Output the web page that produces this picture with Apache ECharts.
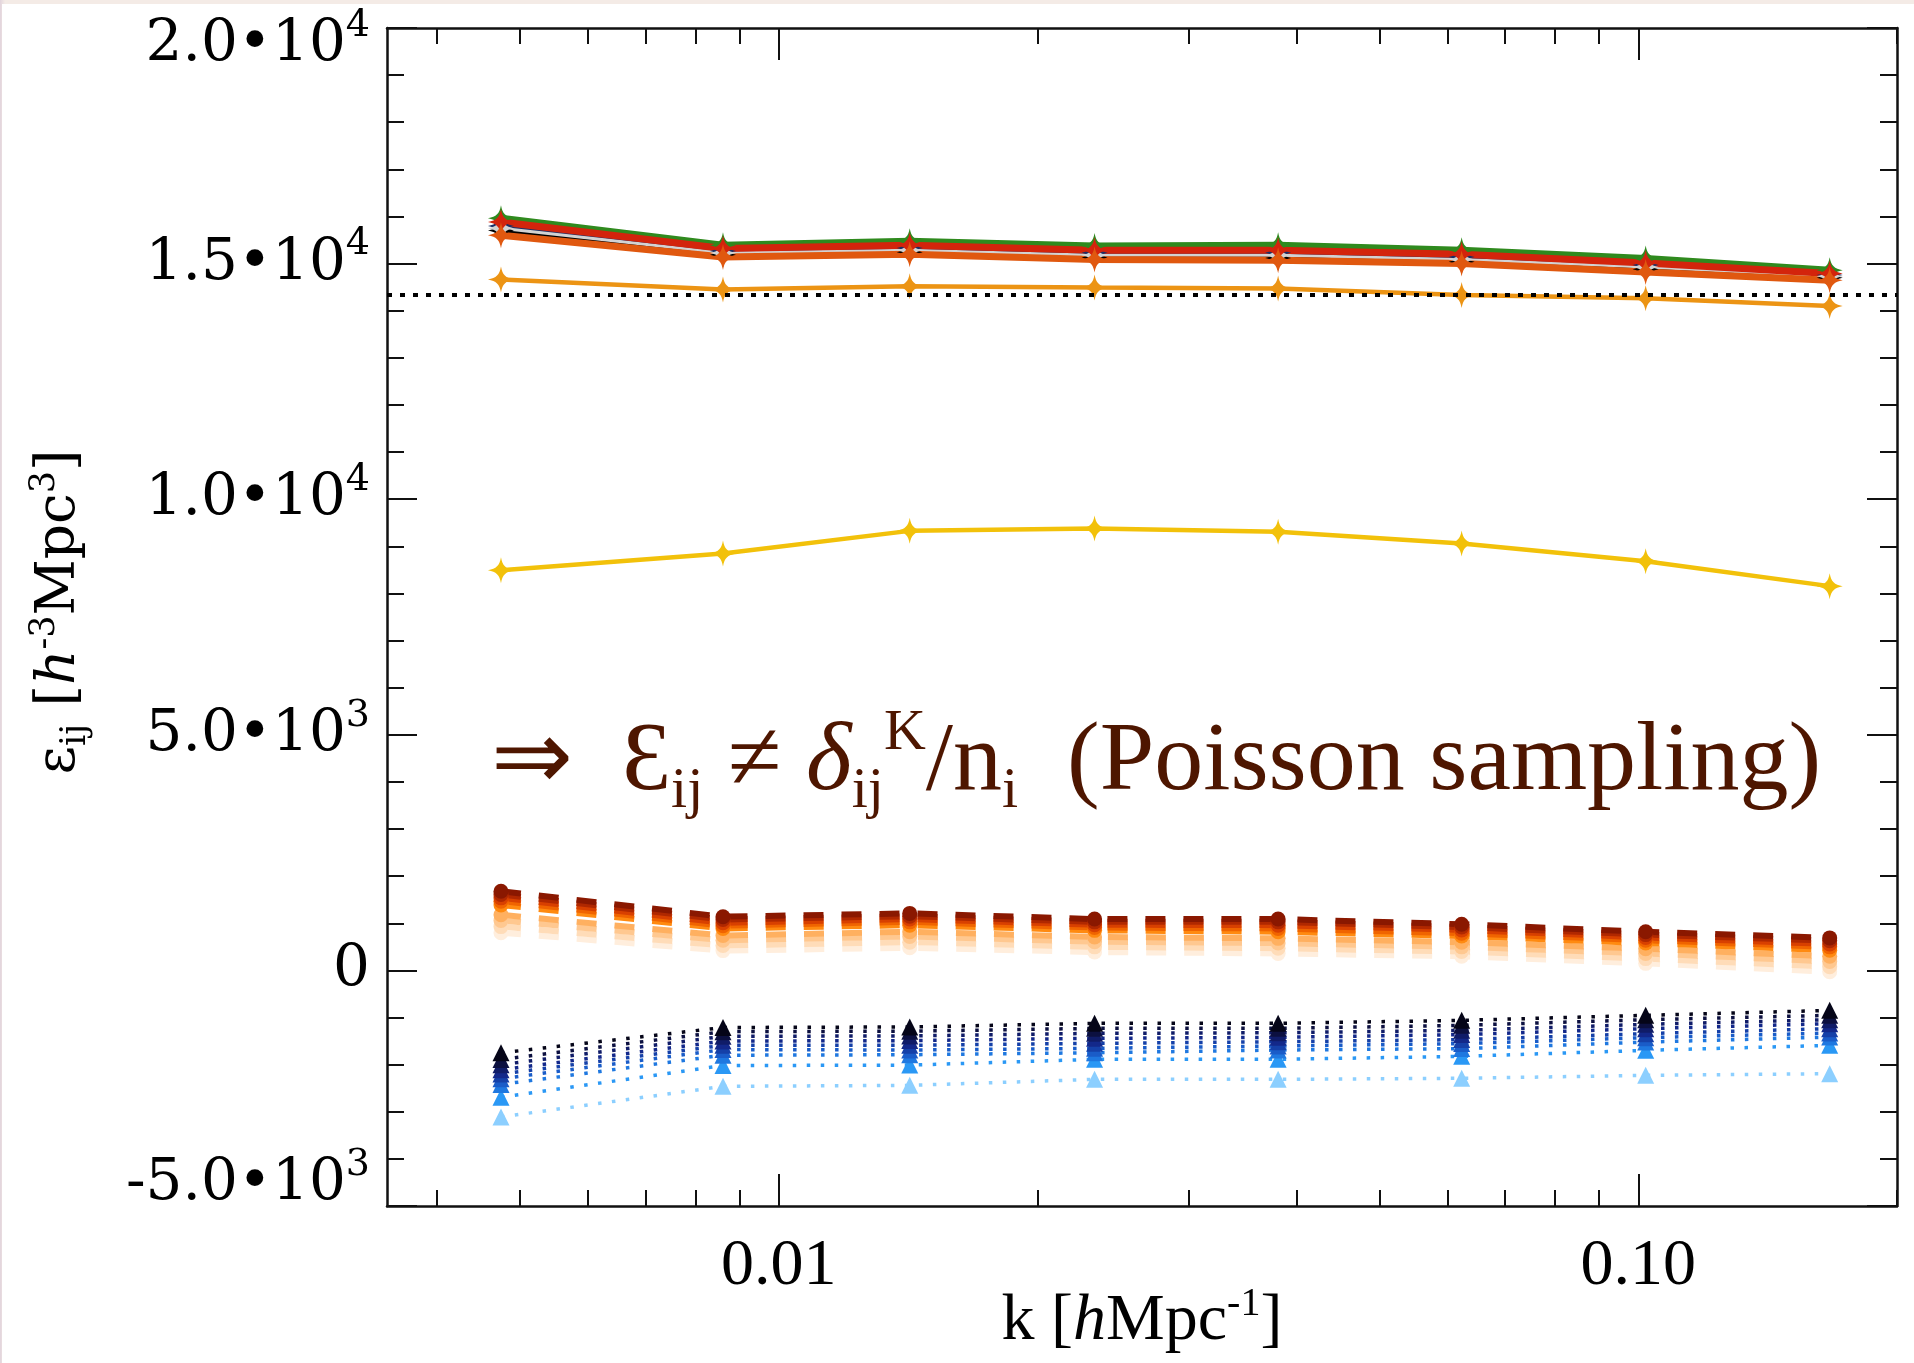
<!DOCTYPE html>
<html>
<head>
<meta charset="utf-8">
<script src="https://cdn.jsdelivr.net/npm/echarts@6/dist/echarts.min.js"></script>
<style>
html, body { margin: 0; padding: 0; width: 1914px; height: 1363px; overflow: hidden;
  background: linear-gradient(90deg, #e2d4dc 0, #f4ebe6 5px, #f4ebe6 100%); }
#chart { position: absolute; left: 2px; top: 4px; width: 1912px; height: 1359px; background: #fff; }
</style>
</head>
<body>
<div id="chart"></div>
<script>
// Wavenumber bins [h/Mpc]
const kValues = [0.00475, 0.00861, 0.0142, 0.0233, 0.0381, 0.0623, 0.102, 0.167];

// x axis range and ticks
const kMin = 0.0035;
const kMax = 0.2;
const xMajorTicks = [0.01, 0.1];
const xMajorLabels = ['0.01', '0.10'];
const xMinorTicks = [0.004, 0.005, 0.006, 0.007, 0.008, 0.009,
                     0.02, 0.03, 0.04, 0.05, 0.06, 0.07, 0.08, 0.09, 0.2];

// y axis ticks
const yTickValues = [-5000, 0, 5000, 10000, 15000, 20000];
const yTickMantissa = ['-5.0\u202210', '0', '5.0\u202210', '1.0\u202210', '1.5\u202210', '2.0\u202210'];
const yTickExponent = ['3', '', '3', '4', '4', '4'];

// Poisson level 1/n
const shotNoiseLevel = 14340;

// Diagonal terms (solid, star markers)
const diagGreen     = [15962, 15389, 15474, 15375, 15389, 15283, 15107, 14859];
const diagRed       = [15884, 15319, 15389, 15283, 15283, 15198, 15014, 14789];
const diagNavy      = [15800, 15270, 15330, 15230, 15230, 15140, 14970, 14760];
const diagGray      = [15750, 15226, 15283, 15177, 15177, 15086, 14929, 14732];
const diagBlack     = [15700, 15190, 15240, 15130, 15120, 15040, 14880, 14700];
const diagOrangeRed = [15602, 15141, 15198, 15086, 15071, 15001, 14823, 14647];
const diagOrange    = [14662, 14449, 14519, 14492, 14471, 14335, 14265, 14100];
const diagYellow    = [8494, 8848, 9328, 9379, 9307, 9061, 8685, 8155];

// Off-diagonal terms, positive branch (dashed, dark to light)
const offPos1 = [1680, 1140, 1210, 1090, 1090, 980, 820, 690];
const offPos2 = [1610, 1080, 1150, 1030, 1030, 920, 760, 630];
const offPos3 = [1540, 1010, 1090, 970, 960, 860, 700, 560];
const offPos4 = [1470, 950, 1030, 910, 890, 790, 640, 500];
const offPos5 = [1390, 890, 960, 850, 820, 730, 580, 430];
const offPos6 = [1180, 740, 820, 710, 680, 600, 460, 300];
const offPos7 = [1060, 640, 720, 610, 580, 500, 360, 190];
const offPos8 = [930, 530, 600, 500, 470, 400, 250, 80];
const offPos9 = [800, 420, 480, 390, 360, 300, 150, -30];

// Off-diagonal terms, negative branch (dotted, dark to light)
const offNeg1 = [-1750, -1212, -1200, -1124, -1124, -1060, -954, -848];
const offNeg2 = [-1890, -1300, -1290, -1230, -1230, -1166, -1046, -954];
const offNeg3 = [-2000, -1400, -1390, -1336, -1323, -1272, -1145, -1046];
const offNeg4 = [-2110, -1500, -1490, -1442, -1421, -1363, -1236, -1131];
const offNeg5 = [-2200, -1590, -1590, -1548, -1514, -1469, -1342, -1236];
const offNeg6 = [-2300, -1680, -1690, -1654, -1605, -1554, -1427, -1330];
const offNeg7 = [-2420, -1800, -1790, -1748, -1690, -1660, -1521, -1415];
const offNeg8 = [-2690, -2020, -2010, -1888, -1888, -1824, -1697, -1591];
const offNeg9 = [-3110, -2460, -2440, -2312, -2312, -2290, -2227, -2192];

const posLines = [offPos1, offPos2, offPos3, offPos4, offPos5, offPos6, offPos7, offPos8, offPos9];
const posColors = ['#8a1800', '#b02800', '#d84000', '#f06400', '#ff8a10', '#ffb060', '#ffc890', '#ffdcb8', '#ffeedd'];
const negLines = [offNeg1, offNeg2, offNeg3, offNeg4, offNeg5, offNeg6, offNeg7, offNeg8, offNeg9];
const negColors = ['#050518', '#0c1040', '#101c68', '#13288a', '#1540a8', '#1a5cc8', '#1f78e0', '#2a98f5', '#8ccfff'];

const starSymbol = 'path://M10,0 C11.2,6.5 13.5,8.8 20,10 C13.5,11.2 11.2,13.5 10,20 C8.8,13.5 6.5,11.2 0,10 C6.5,8.8 8.8,6.5 10,0 Z';

function pairs(vals) { return kValues.map((k, i) => [k, vals[i]]); }

const series = [];

// negative branch: lightest first so the dark lines sit on top
for (let i = negLines.length - 1; i >= 0; i--) {
  series.push({
    type: 'line', data: pairs(negLines[i]),
    symbol: 'triangle', symbolSize: [17, 17],
    itemStyle: { color: negColors[i] },
    lineStyle: { color: negColors[i], width: 3.5, type: [3.5, 10.5] }
  });
}
// positive branch
for (let i = posLines.length - 1; i >= 0; i--) {
  series.push({
    type: 'line', data: pairs(posLines[i]),
    symbol: 'circle', symbolSize: 15,
    itemStyle: { color: posColors[i] },
    lineStyle: { color: posColors[i], width: 6, type: [20, 18] }
  });
}

function solid(vals, color, width) {
  return {
    type: 'line', data: pairs(vals),
    symbol: starSymbol, symbolSize: 26,
    itemStyle: { color: color },
    lineStyle: { color: color, width: width }
  };
}
series.push(solid(diagYellow, '#f2c10a', 4.5));
series.push(solid(diagOrange, '#ec9414', 4.5));
series.push(solid(diagGreen, '#2f8a1e', 7));
series.push(solid(diagNavy, '#1b2f66', 5));
series.push(solid(diagBlack, '#000000', 4));
series.push(solid(diagGray, '#d2d2d2', 3));
series.push(solid(diagRed, '#d3240c', 7));
series.push(solid(diagOrangeRed, '#e0580f', 7));

// 1/n reference level
series.push({
  type: 'line', data: [],
  markLine: {
    silent: true, symbol: ['none', 'none'], label: { show: false },
    lineStyle: { color: '#000', width: 4, type: [5, 8] },
    data: [{ yAxis: shotNoiseLevel }]
  }
});

const axisColor = '#111';
function xAxisDef(position, ticks, len, withLabels, showLine) {
  return {
    type: 'log', logBase: 10, min: kMin, max: kMax, position: position,
    axisLine: { show: showLine, onZero: false, lineStyle: { color: axisColor, width: 2.5 } },
    axisTick: { show: true, inside: true, length: len, customValues: ticks,
                lineStyle: { color: axisColor, width: 2 } },
    minorTick: { show: false },
    splitLine: { show: false },
    axisLabel: withLabels ? {
      show: true, customValues: xMajorTicks, margin: 28,
      fontFamily: 'Liberation Serif', fontSize: 66, color: '#000',
      formatter: v => xMajorLabels[xMajorTicks.findIndex(t => Math.abs(t - v) < 1e-9)]
    } : { show: false }
  };
}

const xAxes = [
  Object.assign(xAxisDef('bottom', xMajorTicks, 32, true, true), {
    name: '{t|k [}{it|h}{t|Mpc}{sp|-1}{t|]}',
    nameLocation: 'middle', nameGap: 78, nameMoveOverlap: false,
    nameTextStyle: {
      rich: {
        t: { fontFamily: 'Liberation Serif', fontSize: 66, lineHeight: 76, color: '#000' },
        it: { fontFamily: 'Liberation Serif', fontSize: 66, fontStyle: 'italic', lineHeight: 76, color: '#000' },
        sp: { fontFamily: 'Liberation Serif', fontSize: 40, verticalAlign: 'top', color: '#000' }
      }
    }
  }),
  xAxisDef('bottom', xMinorTicks, 16, false, false),
  xAxisDef('top', xMajorTicks, 32, false, true),
  xAxisDef('top', xMinorTicks, 16, false, false)
];

const yRich = {
  m: { fontFamily: 'DejaVu Serif', fontSize: 58, lineHeight: 76, color: '#000' },
  s: { fontFamily: 'DejaVu Serif', fontSize: 38, verticalAlign: 'top', color: '#000' },
  gapTop: { fontSize: 10, lineHeight: 34 },
  gapBottom: { fontSize: 10, lineHeight: 44 }
};

function yAxisDef(position, labels) {
  return {
    type: 'value', position: position, min: -5000, max: 20000, interval: 5000,
    axisLine: { show: true, onZero: false, lineStyle: { color: axisColor, width: 2.5 } },
    axisTick: { show: true, inside: true, length: 30, lineStyle: { color: axisColor, width: 2 } },
    minorTick: { show: true, splitNumber: 5, length: 17, lineStyle: { color: axisColor, width: 2 } },
    splitLine: { show: false },
    axisLabel: labels ? {
      show: true, margin: 17, rich: yRich,
      formatter: v => {
        const i = yTickValues.indexOf(v);
        if (i < 0) return '';
        const body = '{m|' + yTickMantissa[i] + '}' + (yTickExponent[i] ? '{s|' + yTickExponent[i] + '}' : '');
        // end labels sit inside the frame
        if (i === yTickValues.length - 1) return '{gapTop| }\n' + body;
        if (i === 0) return body + '\n{gapBottom| }';
        return body;
      }
    } : { show: false }
  };
}

const textColor = '#4e1600';
const chart = echarts.init(document.getElementById('chart'), null, { renderer: 'canvas' });
chart.setOption({
  animation: false,
  backgroundColor: '#ffffff',
  grid: { left: 385, top: 24, width: 1510, height: 1178, containLabel: false, outerBoundsMode: 'none' },
  xAxis: xAxes,
  yAxis: [yAxisDef('left', true), yAxisDef('right', false)],
  series: series,
  graphic: [
    {
      type: 'text', x: 58, y: 608, rotation: Math.PI / 2,
      style: {
        text: '{t|\u03b5}{sb|ij}{t| [}{it|h}{sp|-3}{t|Mpc}{sp|3}{t|]}',
        align: 'center', verticalAlign: 'middle',
        rich: {
          t: { fontFamily: 'DejaVu Serif', fontSize: 55, lineHeight: 66, fill: '#000' },
          it: { fontFamily: 'DejaVu Serif', fontSize: 55, fontStyle: 'italic', lineHeight: 66, fill: '#000' },
          sb: { fontFamily: 'DejaVu Serif', fontSize: 35, verticalAlign: 'bottom', fill: '#000' },
          sp: { fontFamily: 'DejaVu Serif', fontSize: 35, verticalAlign: 'top', fill: '#000' }
        }
      }
    },
    {
      type: 'text', x: 489, y: 759,
      style: {
        text: '{t|\u21d2  \u0190}{sb|ij}{t| \u2260 }{d|\u03b4}{sb|ij}{sp|K}{t|/n}{sb|i}{t|  (Poisson sampling)}',
        align: 'left', verticalAlign: 'middle',
        rich: {
          t: { fontFamily: 'Liberation Serif', fontSize: 98, lineHeight: 116, fill: textColor },
          d: { fontFamily: 'Liberation Serif', fontSize: 98, fontStyle: 'italic', lineHeight: 116, fill: textColor },
          sb: { fontFamily: 'Liberation Serif', fontSize: 58, verticalAlign: 'bottom', fill: textColor },
          sp: { fontFamily: 'Liberation Serif', fontSize: 58, verticalAlign: 'top', fill: textColor }
        }
      }
    }
  ]
});
</script>
</body>
</html>
